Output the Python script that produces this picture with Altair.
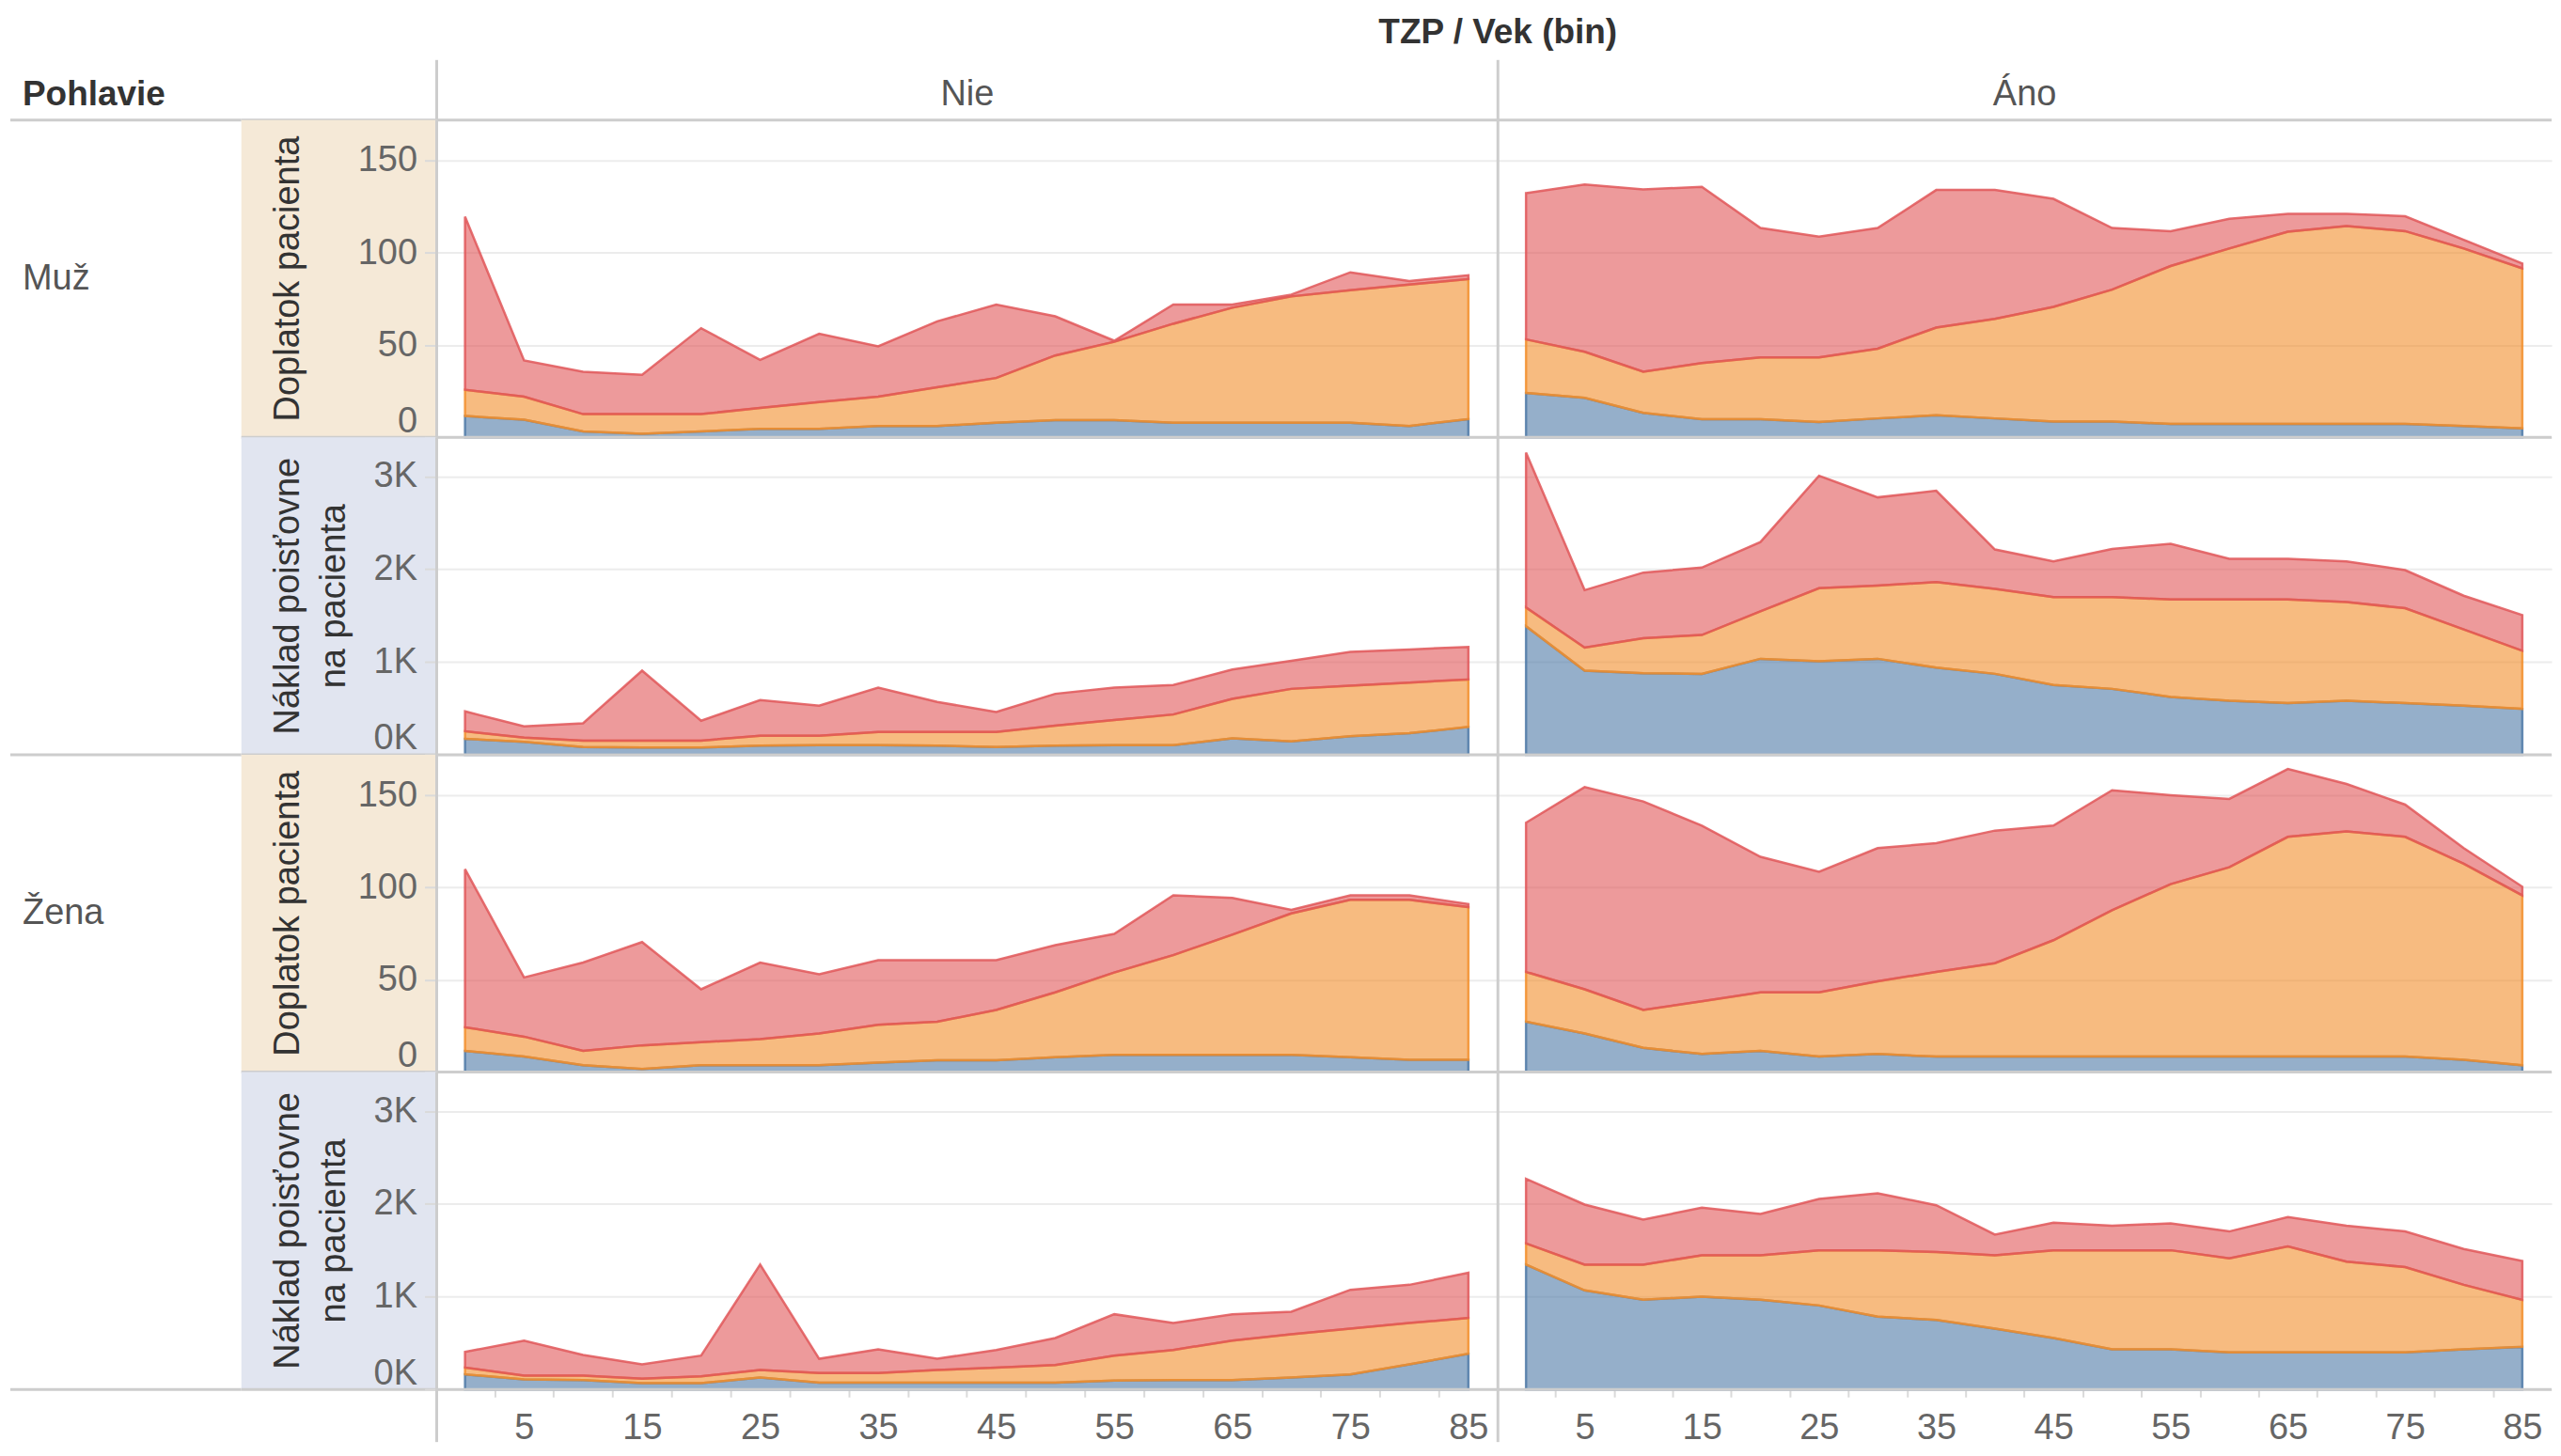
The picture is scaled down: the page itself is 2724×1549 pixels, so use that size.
import altair as alt
import pandas as pd

# ---------------- data ----------------
VEK = [0, 5, 10, 15, 20, 25, 30, 35, 40, 45, 50, 55, 60, 65, 70, 75, 80, 85]
SKUPINY = ["Skupina 1", "Skupina 2", "Skupina 3"]
FARBY = ["#4e79a7", "#f28e2b", "#e15759"]
POHLAVIE = ["Muž", "Žena"]
TZP = ["Nie", "Áno"]
MERANIA = ["Doplatok pacienta", "Náklad poisťovne na pacienta"]
MERANIA_RIADKY = [["Doplatok pacienta"], ["Náklad poisťovne", "na pacienta"]]
Y_DOMENA = [[0, 172], [0, 3420]]
Y_HODNOTY = [[0, 50, 100, 150], [0, 1000, 2000, 3000]]
X_HODNOTY = [i * 2.5 for i in range(1, 35)]

# Muž / Doplatok pacienta
MUZ_DOPL_NIE_1 = [11.6, 9.6, 3.2, 1.9, 3.2, 4.6, 4.6, 6.2, 6.2, 7.9, 9.3, 9.3, 7.9, 7.9, 7.9, 7.9, 6.2, 9.9]
MUZ_DOPL_NIE_2 = [14.2, 12.5, 9.4, 10.7, 9.4, 11.4, 14.5, 15.9, 21.0, 24.3, 35.1, 42.5, 53.7, 62.4, 68.5, 71.9, 76.6, 75.9]
MUZ_DOPL_NIE_3 = [93.8, 19.6, 23.0, 21.3, 46.6, 26.0, 37.1, 27.3, 35.7, 39.8, 21.2, 0.6, 10.4, 1.7, 1.0, 9.7, 2.0, 2.1]
MUZ_DOPL_ANO_1 = [24.1, 21.4, 13.3, 9.9, 9.9, 8.3, 10.3, 12.0, 10.3, 8.6, 8.6, 7.3, 7.3, 7.3, 7.3, 7.3, 6.2, 4.9]
MUZ_DOPL_ANO_2 = [29.0, 25.0, 22.3, 30.4, 33.4, 35.0, 37.8, 47.5, 53.9, 62.1, 71.5, 85.6, 95.1, 104.2, 107.2, 104.5, 96.2, 86.7]
MUZ_DOPL_ANO_3 = [79.3, 90.7, 98.8, 95.5, 70.2, 65.5, 65.4, 74.6, 69.9, 58.6, 33.4, 18.9, 16.1, 9.7, 6.7, 8.1, 4.7, 2.7]
# Muž / Náklad poisťovne na pacienta
MUZ_NAKL_NIE_1 = [172, 138, 84, 77, 77, 98, 104, 104, 98, 84, 98, 104, 104, 178, 145, 199, 232, 300]
MUZ_NAKL_NIE_2 = [81, 47, 68, 75, 75, 107, 101, 142, 148, 162, 215, 270, 330, 425, 565, 545, 546, 511]
MUZ_NAKL_NIE_3 = [215, 121, 188, 754, 215, 384, 324, 478, 323, 215, 344, 350, 317, 316, 303, 364, 357, 351]
MUZ_NAKL_ANO_1 = [1384, 906, 879, 872, 1034, 1007, 1034, 939, 872, 751, 710, 623, 582, 556, 582, 556, 529, 495]
MUZ_NAKL_ANO_2 = [202, 249, 377, 418, 511, 788, 788, 923, 916, 949, 990, 1050, 1091, 1117, 1064, 1023, 821, 626]
MUZ_NAKL_ANO_3 = [1670, 619, 707, 727, 748, 1212, 952, 983, 424, 384, 519, 600, 438, 438, 438, 411, 364, 384]
# Žena / Doplatok pacienta
ZENA_DOPL_NIE_1 = [11.5, 8.4, 3.7, 1.7, 3.7, 3.7, 3.7, 5.1, 6.4, 6.4, 8.1, 9.4, 9.4, 9.4, 9.4, 8.1, 6.7, 6.7]
ZENA_DOPL_NIE_2 = [12.8, 10.8, 7.8, 12.8, 12.5, 14.2, 17.2, 20.5, 20.9, 27.3, 35.1, 44.6, 54.0, 65.1, 76.6, 85.3, 86.7, 82.7]
ZENA_DOPL_NIE_3 = [85.7, 32.1, 47.9, 56.0, 28.7, 41.5, 32.1, 35.1, 33.4, 27.0, 25.6, 20.9, 32.4, 19.9, 2.0, 2.4, 2.4, 1.7]
ZENA_DOPL_ANO_1 = [27.3, 20.9, 13.2, 9.8, 11.5, 8.4, 9.8, 8.4, 8.4, 8.4, 8.4, 8.4, 8.4, 8.4, 8.4, 8.4, 6.7, 3.7]
ZENA_DOPL_ANO_2 = [27.0, 24.0, 20.5, 28.6, 31.7, 34.8, 39.4, 45.9, 50.6, 63.1, 79.3, 93.5, 102.6, 119.1, 122.1, 119.1, 106.3, 92.1]
ZENA_DOPL_ANO_3 = [80.9, 109.6, 113.0, 95.2, 73.5, 65.4, 72.2, 69.8, 71.9, 62.1, 65.1, 48.2, 37.1, 36.8, 25.7, 17.5, 8.4, 4.7]
# Žena / Náklad poisťovne na pacienta
ZENA_NAKL_NIE_1 = [162, 108, 101, 68, 68, 128, 74, 74, 74, 74, 74, 95, 101, 101, 128, 162, 270, 385]
ZENA_NAKL_NIE_2 = [74, 41, 48, 47, 74, 81, 102, 102, 135, 162, 190, 270, 325, 426, 467, 493, 446, 385]
ZENA_NAKL_NIE_3 = [169, 378, 223, 155, 223, 1136, 155, 256, 122, 190, 290, 446, 290, 284, 243, 419, 412, 487]
ZENA_NAKL_ANO_1 = [1345, 1068, 966, 1000, 966, 905, 784, 750, 655, 554, 432, 432, 399, 399, 399, 399, 432, 459]
ZENA_NAKL_ANO_2 = [229, 277, 379, 446, 480, 595, 716, 730, 791, 946, 1068, 1068, 1013, 1142, 979, 919, 696, 507]
ZENA_NAKL_ANO_3 = [696, 648, 486, 513, 446, 554, 615, 506, 223, 297, 264, 291, 291, 317, 386, 385, 386, 419]

PANELY = {
    ("Muž", 0, "Nie"): [MUZ_DOPL_NIE_1, MUZ_DOPL_NIE_2, MUZ_DOPL_NIE_3],
    ("Muž", 0, "Áno"): [MUZ_DOPL_ANO_1, MUZ_DOPL_ANO_2, MUZ_DOPL_ANO_3],
    ("Muž", 1, "Nie"): [MUZ_NAKL_NIE_1, MUZ_NAKL_NIE_2, MUZ_NAKL_NIE_3],
    ("Muž", 1, "Áno"): [MUZ_NAKL_ANO_1, MUZ_NAKL_ANO_2, MUZ_NAKL_ANO_3],
    ("Žena", 0, "Nie"): [ZENA_DOPL_NIE_1, ZENA_DOPL_NIE_2, ZENA_DOPL_NIE_3],
    ("Žena", 0, "Áno"): [ZENA_DOPL_ANO_1, ZENA_DOPL_ANO_2, ZENA_DOPL_ANO_3],
    ("Žena", 1, "Nie"): [ZENA_NAKL_NIE_1, ZENA_NAKL_NIE_2, ZENA_NAKL_NIE_3],
    ("Žena", 1, "Áno"): [ZENA_NAKL_ANO_1, ZENA_NAKL_ANO_2, ZENA_NAKL_ANO_3],
}

# ---------------- style ----------------
FONT = "Liberation Sans"
SEP = "#cdcdcd"
GRID = "#ececec"
TICK = "#dadada"
LBL = "#666666"
HDR = "#555555"
DARK = "#333333"
BG = ["#f5e9d7", "#e1e5f0"]
W0, W1, W2, W3 = 246, 208, 1130, 1122
H_TITLE, H_HEAD, H_ROW, H_AXIS = 52, 64, 338, 56

ONE = pd.DataFrame({"k": [0]})


def hline(y, x1, x2):
    return alt.Chart(ONE).mark_rule(color=SEP, strokeWidth=3).encode(
        x=alt.value(x1), x2=alt.value(x2), y=alt.value(y))


def vline(x, y1, y2):
    return alt.Chart(ONE).mark_rule(color=SEP, strokeWidth=3).encode(
        x=alt.value(x), y=alt.value(y1), y2=alt.value(y2))


def blank():
    return alt.Chart(ONE).mark_point(opacity=0).encode(x=alt.value(0), y=alt.value(0))


def label(df, field, x, y, size=38, color=HDR, bold=False, align="left", angle=0):
    return alt.Chart(df).mark_text(
        font=FONT, fontSize=size, color=color, fontWeight="bold" if bold else "normal",
        align=align, baseline="middle", angle=angle,
    ).encode(text=f"{field}:N", x=alt.value(x), y=alt.value(y))


def cell(layers, w, h, fill=None):
    ch = alt.layer(*layers).properties(width=w, height=h)
    if fill:
        ch = ch.properties(view=alt.ViewBackground(fill=fill, stroke=None))
    return ch


def panel(g, m, t, show_y, show_x):
    rows = []
    for si, s in enumerate(SKUPINY):
        vals = PANELY[(g, m, t)][si]
        for v, h in zip(VEK, vals):
            rows.append({"vek": v, "hodnota": h, "skupina": s, "poradie": si})
    df = pd.DataFrame(rows)
    if show_y:
        yaxis = alt.Axis(
            values=Y_HODNOTY[m], grid=True, gridColor=GRID, gridWidth=2, domain=False,
            ticks=True, tickColor=TICK, tickSize=13, tickWidth=2,
            labelFont=FONT, labelFontSize=38, labelColor=LBL, labelPadding=8,
            labelFlush=True, labelFlushOffset=2, title=None, format="d",
            **({"labelExpr": "datum.value / 1000 + 'K'"} if m == 1 else {}),
        )
    else:
        yaxis = alt.Axis(values=Y_HODNOTY[m], grid=True, gridColor=GRID, gridWidth=2,
                         domain=False, ticks=False, labels=False, title=None)
    if show_x:
        xaxis = alt.Axis(
            values=X_HODNOTY, format="d", labelExpr="datum.value % 10 == 5 ? datum.label : ''",
            tickOpacity={"condition": {"test": "datum.value % 5 == 0", "value": 0}, "value": 1},
            tickColor=TICK, tickSize=8, tickWidth=2, domain=False, grid=False, title=None,
            labelFont=FONT, labelFontSize=38, labelColor=LBL, labelPadding=14,
            labelFlush=False, labelOverlap=False, labelBound=False,
        )
    else:
        xaxis = None
    area = alt.Chart(df).mark_area(
        opacity=1, fillOpacity=0.6, strokeWidth=2.5, strokeOpacity=0.85, interpolate="linear"
    ).encode(
        x=alt.X("vek:Q", scale=alt.Scale(domain=[-2.4, 87.5], nice=False, zero=False), axis=xaxis),
        y=alt.Y("hodnota:Q", stack="zero",
                scale=alt.Scale(domain=Y_DOMENA[m], nice=False, zero=True), axis=yaxis),
        color=alt.Color("skupina:N", scale=alt.Scale(domain=SKUPINY, range=FARBY), legend=None),
        stroke=alt.Stroke("skupina:N", scale=alt.Scale(domain=SKUPINY, range=FARBY), legend=None),
        order=alt.Order("poradie:Q"),
    )
    return area


cells = []
# row 0: title
cells += [
    cell([blank()], W0, H_TITLE),
    cell([blank()], W1, H_TITLE),
    cell([label(pd.DataFrame({"t": ["TZP / Vek (bin)"]}), "t", W2, 23, size=37,
                color=DARK, bold=True, align="center")], W2, H_TITLE),
    cell([blank()], W3, H_TITLE),
]
# row 1: headers
cells += [
    cell([label(pd.DataFrame({"t": ["Pohlavie"]}), "t", 13, 37, size=37, color=DARK, bold=True),
          hline(H_HEAD, 0, W0)], W0, H_HEAD),
    cell([hline(H_HEAD, 0, W1)], W1, H_HEAD),
    cell([label(pd.DataFrame({"tzp": [TZP[0]]}), "tzp", W2 / 2, 37, align="center"),
          hline(H_HEAD, 0, W2), vline(0, 0, H_HEAD)], W2, H_HEAD),
    cell([label(pd.DataFrame({"tzp": [TZP[1]]}), "tzp", W3 / 2, 37, align="center"),
          hline(H_HEAD, 0, W3), vline(0, 0, H_HEAD)], W3, H_HEAD),
]
# panel rows
for g in POHLAVIE:
    for m in range(2):
        full = m == 1
        last = (g == POHLAVIE[-1]) and full
        c0 = []
        if m == 0:
            c0.append(label(pd.DataFrame({"p": [g]}), "p", 13, H_ROW / 2))
        if full:
            c0.append(hline(H_ROW, 0, W0))
        if not c0:
            c0.append(blank())
        c1 = []
        for li, line in enumerate(MERANIA_RIADKY[m]):
            c1.append(label(pd.DataFrame({"m": [line]}), "m", 50 + 49 * li, H_ROW / 2,
                            size=38, color=DARK, align="center", angle=270))
        c1.append(hline(H_ROW, 0, W1))
        cells += [
            cell(c0, W0, H_ROW),
            cell(c1, W1, H_ROW, fill=BG[m]),
            cell([panel(g, m, "Nie", True, last), hline(H_ROW, 0, W2), vline(0, 0, H_ROW)], W2, H_ROW),
            cell([panel(g, m, "Áno", False, last), hline(H_ROW, 0, W3), vline(0, 0, H_ROW)], W3, H_ROW),
        ]
# axis row
cells += [
    cell([blank()], W0, H_AXIS),
    cell([blank()], W1, H_AXIS),
    cell([vline(0, 0, H_AXIS)], W2, H_AXIS),
    cell([vline(0, 0, H_AXIS)], W3, H_AXIS),
]

chart = alt.concat(*cells, columns=4, spacing=0, bounds="flush", align="each").resolve_scale(
    x="independent", y="independent"
).properties(padding=0, background="white").configure_view(stroke=None)

chart.save("out.html", embed_options={"renderer": "svg", "actions": False})
